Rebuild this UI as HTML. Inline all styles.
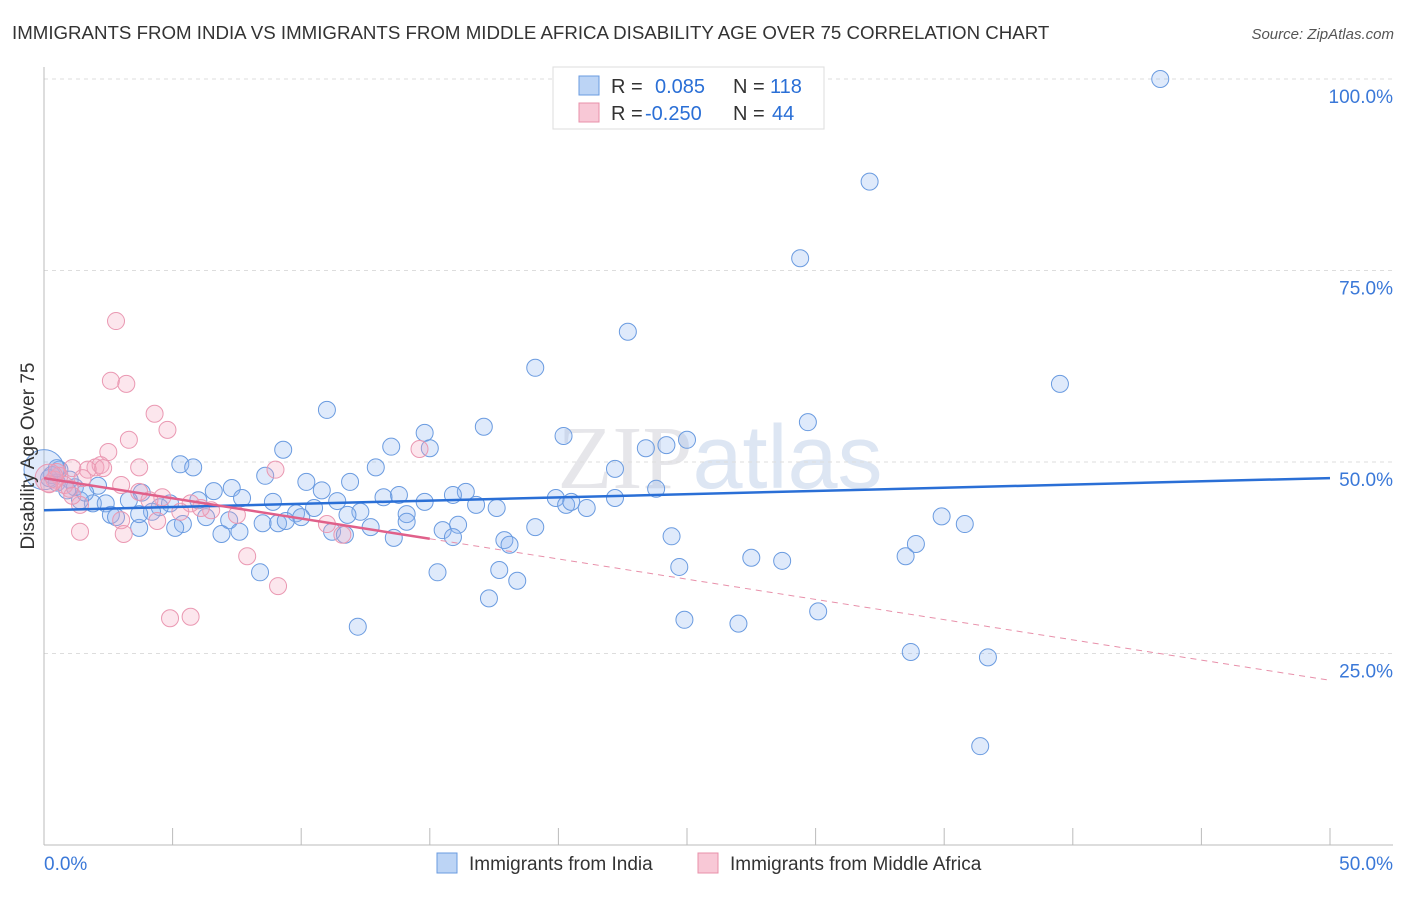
<!DOCTYPE html>
<html><head><meta charset="utf-8"><style>
body{margin:0;background:#fff;font-family:"Liberation Sans",sans-serif}
</style></head><body>
<svg width="1406" height="892" xmlns="http://www.w3.org/2000/svg" font-family="Liberation Sans, sans-serif">
<text x="12" y="39" font-size="18.7" fill="#333">IMMIGRANTS FROM INDIA VS IMMIGRANTS FROM MIDDLE AFRICA DISABILITY AGE OVER 75 CORRELATION CHART</text>
<text x="1394" y="39" font-size="15" fill="#555" font-style="italic" text-anchor="end">Source: ZipAtlas.com</text>
<text x="720" y="488" font-size="90" fill="#e6e6ea" text-anchor="middle" font-family="Liberation Serif, serif">ZIP<tspan fill="#dde6f3" font-family="Liberation Sans, sans-serif">atlas</tspan></text>
<g id="grid"></g>
<g id="axes"></g>
<g id="pts"></g>
<g id="trend"></g>
<text transform="translate(34,456) rotate(-90)" font-size="19" fill="#333" text-anchor="middle">Disability Age Over 75</text>
<g>
<rect x="553" y="67" width="271" height="62" fill="#fff" stroke="#ddd"/>
<rect x="579" y="76" width="20" height="19" fill="#bcd4f5" stroke="#6a9be0"/>
<text x="611" y="93" font-size="20" fill="#333">R = <tspan fill="#2a6fd6" x="655">0.085</tspan><tspan x="733">N =</tspan><tspan fill="#2a6fd6" x="770">118</tspan></text>
<rect x="579" y="103" width="20" height="19" fill="#f8c8d6" stroke="#e890aa"/>
<text x="611" y="120" font-size="20" fill="#333">R = <tspan fill="#2a6fd6" x="645">-0.250</tspan><tspan x="733">N =</tspan><tspan fill="#2a6fd6" x="772">44</tspan></text>
</g>
<g>
<rect x="437" y="853" width="20" height="20" fill="#bcd4f5" stroke="#6a9be0"/>
<text x="469" y="870" font-size="19" fill="#333">Immigrants from India</text>
<rect x="698" y="853" width="20" height="20" fill="#f8c8d6" stroke="#e890aa"/>
<text x="730" y="870" font-size="19" fill="#333">Immigrants from Middle Africa</text>
</g>
</svg>
<script>
const yTicks=[25,50,75,100];
const yTickLabels=["25.0%","50.0%","75.0%","100.0%"];
const indiaX=[43.4,32.1,29.4,22.7,19.1,39.5,11.0,29.7,17.1,14.8,20.2,13.5,25.0,24.2,9.3,23.4,15.0,5.3,5.8,12.9,22.2,8.6,10.2,11.9,7.3,10.8,6.6,23.8,16.4,2.1,3.8,7.7,13.8,3.3,15.9,19.9,22.2,8.9,11.4,13.2,6.0,1.9,1.4,2.4,4.9,4.5,10.5,21.1,20.3,16.8,17.6,20.5,14.8,12.3,14.1,9.8,10.0,4.2,2.6,2.8,6.3,7.2,8.5,9.1,9.4,16.1,14.1,5.4,5.1,3.7,3.7,11.8,12.7,15.5,19.1,34.9,35.8,11.2,11.7,15.9,17.9,18.1,24.4,33.9,13.6,6.9,7.6,33.5,27.5,28.7,24.7,17.7,15.3,8.4,18.4,17.3,12.2,30.1,24.9,27.0,33.7,36.7,36.4,0.6,0.3,1.0,0.5,1.2,0.9,1.6,0.2,0.5,0.0];
const indiaY=[100.0,86.6,76.6,67.0,62.3,60.2,56.8,55.2,54.6,53.8,53.4,52.0,52.9,52.2,51.6,51.8,51.8,49.7,49.3,49.3,49.1,48.2,47.4,47.4,46.6,46.3,46.2,46.5,46.1,46.9,46.0,45.3,45.7,45.0,45.7,45.3,45.3,44.8,44.9,45.4,45.0,44.6,45.0,44.6,44.6,44.1,44.0,44.0,44.4,44.4,44.0,44.8,44.8,43.5,43.2,43.3,42.8,43.5,43.1,42.8,42.8,42.4,42.0,42.0,42.3,41.8,42.2,41.9,41.4,41.4,43.2,43.1,41.5,41.1,41.5,42.9,41.9,40.9,40.5,40.2,39.8,39.2,40.3,39.3,40.1,40.6,40.9,37.7,37.5,37.1,36.3,35.9,35.6,35.6,34.5,32.2,28.5,30.5,29.4,28.9,25.2,24.5,12.9,49.0,48.3,47.7,47.3,46.7,46.3,46.0,47.9,49.2,49.0];
const africaX=[2.8,2.6,3.2,4.3,4.8,3.3,2.5,3.7,14.6,9.0,2.0,2.2,1.7,1.1,1.5,0.6,0.4,0.8,1.0,3.0,3.7,4.6,5.7,6.5,7.5,4.4,3.0,1.4,1.1,11.0,11.6,7.9,9.1,4.9,5.7,1.4,3.1,0.5,0.2,2.3,4.1,6.1,5.3,0.2];
const africaY=[68.4,60.6,60.2,56.3,54.2,52.9,51.3,49.3,51.7,49.0,49.3,49.6,49.0,49.2,47.9,48.2,47.7,47.0,46.5,47.0,46.1,45.4,44.6,43.7,43.1,42.3,42.4,44.4,45.6,41.9,40.5,37.7,33.8,29.6,29.8,40.9,40.6,48.7,47.1,49.2,45.0,44.0,43.5,47.9];
const indiaTrend=[43.7,47.9];
const africaTrend=[47.9,21.5];
const ns="http://www.w3.org/2000/svg";
const X0=44,X1=1330,Y0=845,Y100=79;
function sx(v){return X0+(X1-X0)*v/50;}
function sy(v){return Y0-(Y0-Y100)*v/100;}
function mk(tag,attrs,parent){const e=document.createElementNS(ns,tag);for(const k in attrs)e.setAttribute(k,attrs[k]);parent.appendChild(e);return e;}
const grid=document.getElementById('grid'),axes=document.getElementById('axes'),pts=document.getElementById('pts'),tr=document.getElementById('trend');
yTicks.forEach((t,i)=>{
 const l=mk('line',{x1:X0,x2:1393,y1:sy(t),y2:sy(t),stroke:'#ddd','stroke-dasharray':'4,4'},grid);
 
 
 const tx=mk('text',{x:1393,y:sy(t)+24,'font-size':19,fill:'#3a78d8','text-anchor':'end'},grid);
 tx.textContent=yTickLabels[i];
 
 
});
const la=mk('line',{x1:X0,x2:X0,y1:67,y2:Y0,stroke:'#bbb'},axes);


const ba=mk('line',{x1:X0,x2:1393,y1:Y0,y2:Y0,stroke:'#bbb'},axes);


for(let v=0;v<=50;v+=5){
 const t=mk('line',{x1:sx(v),x2:sx(v),y1:828,y2:Y0,stroke:'#bbb'},axes);
 
 
}
const xl=mk('text',{x:44,y:870,'font-size':19,fill:'#3a78d8'},axes);xl.textContent='0.0%';


const xr=mk('text',{x:1393,y:870,'font-size':19,fill:'#3a78d8','text-anchor':'end'},axes);xr.textContent='50.0%';


function dot(x,y,r,fill,stroke,name){
 const c=mk('circle',{cx:sx(x),cy:sy(y),r:r,fill:fill,stroke:stroke,'stroke-width':1},pts);
 
 
}
indiaX.forEach((x,i)=>dot(x,indiaY[i],i===indiaX.length-1?20:8.5,'rgba(140,180,240,0.28)','#6a9be0','india-point'));
africaX.forEach((x,i)=>dot(x,africaY[i],i===africaX.length-1?14:8.5,'rgba(245,165,190,0.28)','#ea98b2','middle-africa-point'));
const bl=mk('line',{x1:sx(0),y1:sy(indiaTrend[0]),x2:sx(50),y2:sy(indiaTrend[1]),stroke:'#2a6fd6','stroke-width':2.5},tr);


function af(x){return africaTrend[0]+(africaTrend[1]-africaTrend[0])*x/50;}
const pl=mk('line',{x1:sx(0),y1:sy(af(0)),x2:sx(15),y2:sy(af(15)),stroke:'#e0608a','stroke-width':2.5},tr);


const pd=mk('line',{x1:sx(15),y1:sy(af(15)),x2:sx(50),y2:sy(af(50)),stroke:'#e890aa','stroke-width':1,'stroke-dasharray':'6,5'},tr);


</script>
</body></html>
